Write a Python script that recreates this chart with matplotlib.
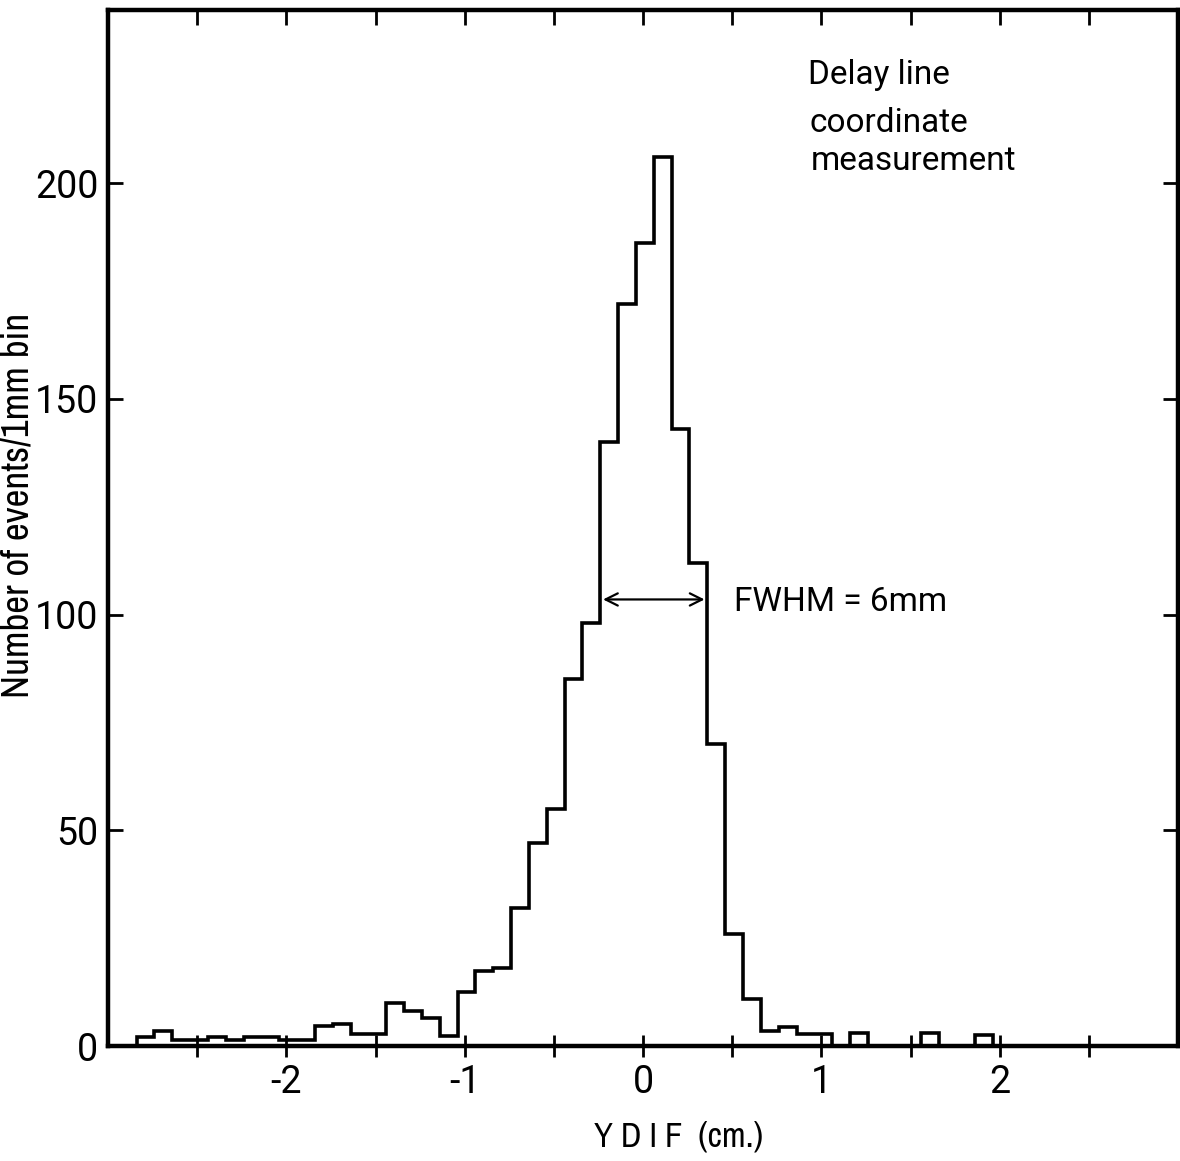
import numpy as np
import matplotlib
matplotlib.use("Agg")
import matplotlib.pyplot as plt
from matplotlib import font_manager

# pick a narrow face if one is installed (used for the axis titles)
names = sorted({f.name for f in font_manager.fontManager.ttflist})
narrow = [n for n in names if 'Narrow' in n or 'Condensed' in n][:1] + ['DejaVu Sans']
plt.rcParams['font.family'] = ['Roboto', 'DejaVu Sans']
plt.rcParams['axes.unicode_minus'] = False

# histogram: 1 mm bins starting at -2.84 cm
first_edge = -2.84
bin_width = 0.1
counts = [2, 3.5, 1.4, 1.4, 2.1, 1.5, 2.1, 2.1, 1.4, 1.4,
          4.6, 5.1, 2.9, 2.9, 9.9, 8.1, 6.4, 2.4, 12.6, 17.5,
          18, 32, 47, 55, 85, 98, 140, 172, 186, 206,
          143, 112, 70, 26, 11, 3.5, 4.5, 2.7, 2.7, 0,
          3, 0, 0, 0, 3, 0, 0, 2.5]
edges = first_edge + bin_width * np.arange(len(counts) + 1)

x_major = [-2, -1, 0, 1, 2]
x_all = [-2.5, -2, -1.5, -1, -0.5, 0, 0.5, 1, 1.5, 2, 2.5]
y_major = [0, 50, 100, 150, 200]

fwhm_left, fwhm_right, fwhm_y = -0.24, 0.36, 103.5

fig = plt.figure(figsize=(11.8, 11.61), dpi=100)
ax = fig.add_axes([0.0915, 0.099, 0.907, 0.892])

ax.stairs(counts, edges, color='black', lw=2.6, baseline=0)

ax.set_xlim(-3, 3)
ax.set_ylim(0, 240)

for s in ax.spines.values():
    s.set_linewidth(3.2)

ax.set_xticks(x_all)
ax.set_xticklabels([str(v) if v in x_major else '' for v in x_all])
ax.tick_params(axis='x', direction='inout', length=16, width=2, labelsize=27, pad=5)
ax.set_yticks(y_major)
ax.tick_params(axis='y', direction='in', length=11, width=2, labelsize=27,
               left=True, right=True, pad=7)

top = ax.secondary_xaxis('top')
top.set_xticks(x_all)
top.set_xticklabels([])
top.tick_params(direction='in', length=11, width=2)

ax.set_xlabel('Y D I F  (cm.)', fontsize=25, family=narrow)
ax.xaxis.set_label_coords(0.533, -0.072)
ax.set_ylabel('Number of events/1mm bin', fontsize=28, family=narrow)
ax.yaxis.set_label_coords(-0.068, 0.522)

ax.annotate('', xy=(fwhm_left, fwhm_y), xytext=(fwhm_right, fwhm_y),
            arrowprops=dict(arrowstyle='<->', color='black', lw=1.6,
                            mutation_scale=22))
ax.text(0.51, 103, 'FWHM = 6mm', fontsize=24, va='center', ha='left')

ax.text(0.925, 225, 'Delay line', fontsize=24, va='center', ha='left')
ax.text(0.935, 214, 'coordinate', fontsize=24, va='center', ha='left')
ax.text(0.94, 205, 'measurement', fontsize=24, va='center', ha='left')

fig.savefig('out.png', dpi=100)
